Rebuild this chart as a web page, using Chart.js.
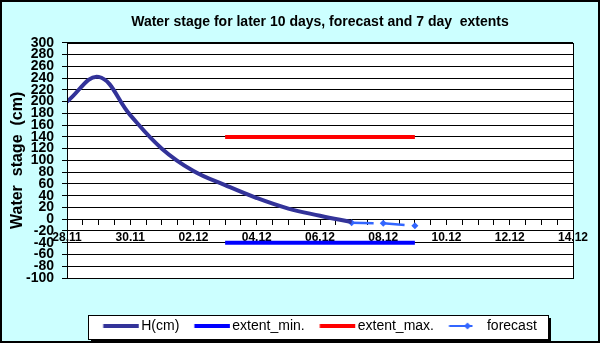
<!DOCTYPE html>
<html>
<head>
<meta charset="utf-8">
<script src="https://cdn.jsdelivr.net/npm/chart.js@4"></script>
<style>
  html, body { margin: 0; padding: 0; background: #ccffff; }
  #wrap { width: 600px; height: 343px; }
</style>
</head>
<body>
<div id="wrap"><canvas id="stage" width="600" height="343"></canvas></div>
<script>
// day index 0 = 28.11, 16 = 14.12
var dateLabels = ['28.11', '30.11', '02.12', '04.12', '06.12', '08.12', '10.12', '12.12', '14.12'];
var hDays = [0, 1, 2, 3, 4, 5, 6, 7, 8, 9];
var hValues = [200, 242, 177, 120, 82, 58, 36, 18, 6, -5];
var forecastDays = [9, 10, 11];
var forecastValues = [-6, -7, -11];
var extentDays = [5, 11];
var extentMin = [-40, -40];
var extentMax = [140, 140];

var FONT = "'Liberation Sans', Arial, sans-serif";

function pts(xs, ys) {
  return xs.map(function (x, i) { return { x: x, y: ys[i] }; });
}

// legend samples: a thick line, the forecast one with a diamond
function sample(color, width, diamond) {
  var c = document.createElement('canvas');
  c.width = 42; c.height = 12;
  var g = c.getContext('2d');
  g.strokeStyle = color;
  g.lineWidth = width;
  g.beginPath();
  if (diamond) { g.moveTo(5.5, 6); g.lineTo(29, 6); } else { g.moveTo(5.5, 6); g.lineTo(41, 6); }
  g.stroke();
  if (diamond) {
    g.fillStyle = color;
    g.beginPath();
    g.moveTo(24, 2.5); g.lineTo(27.5, 6); g.lineTo(24, 9.5); g.lineTo(20.5, 6);
    g.closePath(); g.fill();
  }
  return c;
}
var samples = [
  sample('#333399', 4),
  sample('#0000ff', 4),
  sample('#ff0000', 4),
  sample('#3366ff', 2, true)
];

var frame = {
  id: 'frame',
  beforeDraw: function (chart) {
    var ctx = chart.ctx, a = chart.chartArea;
    ctx.save();
    ctx.fillStyle = '#ccffff';
    ctx.fillRect(0, 0, chart.width, chart.height);
    ctx.fillStyle = '#ffffff';
    ctx.fillRect(a.left, a.top, a.right - a.left, a.bottom - a.top);
    // legend box with shadow
    var hb = chart.legend.legendHitBoxes;
    if (hb && hb.length) {
      var l = Math.round(hb[0].left - 15);
      var r = Math.round(hb[hb.length - 1].left + hb[hb.length - 1].width + 11);
      var t = Math.round(hb[0].top - 4);
      var h = Math.round(hb[0].height + 10);
      ctx.fillStyle = '#000000';
      ctx.fillRect(l + 3, t + 3, r - l, h);
      ctx.fillStyle = '#ffffff';
      ctx.fillRect(l, t, r - l, h);
      ctx.strokeStyle = '#000000';
      ctx.lineWidth = 1;
      ctx.strokeRect(l + 0.5, t + 0.5, r - l, h);
    }
    ctx.restore();
  },
  afterDraw: function (chart) {
    var ctx = chart.ctx, a = chart.chartArea;
    ctx.save();
    ctx.strokeStyle = '#000000';
    ctx.lineWidth = 1;
    ctx.strokeRect(Math.round(a.left) + 0.5, Math.round(a.top) + 0.5, Math.round(a.right - a.left), Math.round(a.bottom - a.top));
    ctx.lineWidth = 2;
    ctx.strokeRect(1, 1, chart.width - 2, chart.height - 2);
    ctx.restore();
  }
};

new Chart(document.getElementById('stage'), {
  type: 'line',
  data: {
    datasets: [
      {
        label: 'H(cm)',
        data: pts(hDays, hValues),
        borderColor: '#333399',
        borderWidth: 4,
        pointRadius: 0,
        tension: 0.4
      },
      {
        label: 'extent_min.',
        data: pts(extentDays, extentMin),
        borderColor: '#0000ff',
        borderWidth: 4,
        pointRadius: 0
      },
      {
        label: 'extent_max.',
        data: pts(extentDays, extentMax),
        borderColor: '#ff0000',
        borderWidth: 4,
        pointRadius: 0
      },
      {
        label: 'forecast',
        data: pts(forecastDays, forecastValues),
        borderColor: '#3366ff',
        backgroundColor: '#3366ff',
        borderWidth: 2.5,
        borderDash: [22, 9],
        pointStyle: 'rectRot',
        pointRadius: 3.5,
        pointBorderWidth: 0
      }
    ]
  },
  options: {
    responsive: false,
    animation: false,
    layout: { padding: { left: 0, right: 27, top: 0, bottom: 0 } },
    scales: {
      x: {
        type: 'linear',
        position: { y: 0 },
        min: 0,
        max: 16,
        grid: { drawOnChartArea: false, drawTicks: true, tickLength: 5, color: '#000000' },
        border: { display: true, color: '#000000', width: 1 },
        ticks: {
          stepSize: 0.5,
          autoSkip: false,
          maxRotation: 0,
          padding: 6,
          color: '#000000',
          font: { family: FONT, size: 12, weight: 'bold' },
          callback: function (v) { return v % 2 === 0 ? dateLabels[v / 2] : ''; }
        }
      },
      y: {
        min: -100,
        max: 300,
        afterFit: function (s) { s.width = 67; },
        grid: { color: '#000000', lineWidth: 1, tickLength: 5 },
        border: { color: '#000000' },
        ticks: {
          stepSize: 20,
          autoSkip: false,
          padding: 8,
          color: '#000000',
          font: { family: FONT, size: 14, weight: 'bold' }
        },
        title: {
          display: true,
          text: 'Water  stage  (cm)',
          color: '#000000',
          font: { family: FONT, size: 16, weight: 'bold' },
          padding: { top: 8, bottom: 0 }
        }
      }
    },
    plugins: {
      tooltip: { enabled: false },
      title: {
        display: true,
        fullSize: false,
        text: 'Water stage for later 10 days, forecast and 7 day  extents',
        color: '#000000',
        font: { family: FONT, size: 14, weight: 'bold' },
        padding: { top: 14, bottom: 12 }
      },
      legend: {
        position: 'bottom',
        fullSize: false,
        title: { display: true, text: '', font: { size: 10 }, padding: { top: 14, bottom: 0 } },
        labels: {
          usePointStyle: true,
          pointStyleWidth: 31,
          padding: 15,
          color: '#000000',
          font: { family: FONT, size: 14 },
          generateLabels: function (chart) {
            return Chart.defaults.plugins.legend.labels.generateLabels(chart).map(function (it, i) {
              it.pointStyle = samples[i];
              it.lineWidth = 0;
              return it;
            });
          }
        }
      }
    }
  },
  plugins: [frame]
});
</script>
</body>
</html>
